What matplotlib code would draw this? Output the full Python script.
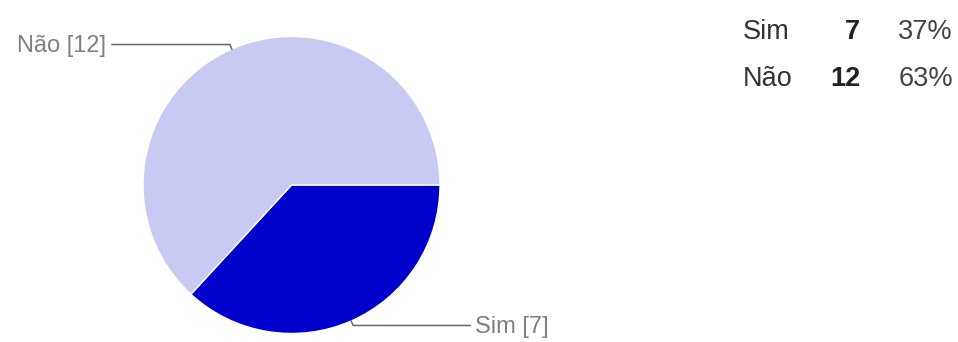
import numpy as np
import matplotlib
matplotlib.use("Agg")
import matplotlib.pyplot as plt

labels = ["Sim", "Não"]
counts = [7, 12]
colors = ["#0000CC", "#C8CAF4"]

W, H = 958, 342
cx, cy, R = 291.5, 185.0, 148.5   # pie centre / radius in pixels

plt.rcParams['font.family'] = ['Liberation Sans', 'DejaVu Sans']
fig = plt.figure(figsize=(W / 100, H / 100), dpi=100)
ax = fig.add_axes([0, 0, 1, 1])

wedges, _ = ax.pie(counts, colors=colors, startangle=0, counterclock=False,
                   radius=1, center=(0, 0), frame=True,
                   wedgeprops=dict(edgecolor='white', linewidth=1))
ax.set_xlim(-cx / R, (W - cx) / R)
ax.set_ylim(-(H - cy) / R, cy / R)
ax.set_aspect('equal')
ax.axis('off')

# callout labels
line_end = {"Sim": (470 - cx) / R, "Não": (112 - cx) / R}
for w, lab, n in zip(wedges, labels, counts):
    ang = np.deg2rad((w.theta1 + w.theta2) / 2)
    x0, y0 = np.cos(ang), np.sin(ang)
    x1, y1 = 1.033 * x0, 1.033 * y0
    xe = line_end[lab]
    ax.plot([x0, x1, xe], [y0, y1, y1], color='#666666', lw=1.1)
    ha = 'left' if xe > 0 else 'right'
    off = 5 / R if xe > 0 else -6 / R
    ax.text(xe + off, y1 - 7.5 / R, f"{lab} [{n}]", ha=ha, va='baseline',
            fontsize=17, color='#808080')

# summary table
total = sum(counts)
row_base = [39, 86]
for lab, n, yy in zip(labels, counts, row_base):
    fy = 1 - yy / H
    fig.text(743 / W, fy, lab, ha='left', va='baseline', fontsize=19.5, color='#333333')
    fig.text(860 / W, fy, str(n), ha='right', va='baseline', fontsize=19.5,
             color='#222222', fontweight='bold')
    fig.text(953 / W, fy, f"{round(100 * n / total)}%", ha='right', va='baseline',
             fontsize=19.5, color='#444444')

fig.savefig("out.png", dpi=100)
